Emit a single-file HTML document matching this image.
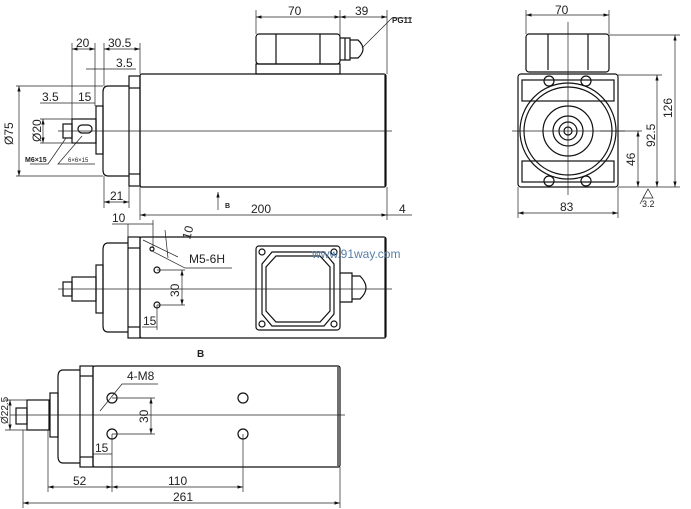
<!DOCTYPE html>
<html><head><meta charset="utf-8"><style>
html,body{margin:0;padding:0;background:#fff}
svg{display:block}
text{font-family:"Liberation Sans",sans-serif;fill:#222}
</style></head><body>
<svg width="691" height="509" viewBox="0 0 691 509" xmlns="http://www.w3.org/2000/svg">
<defs>
<marker id="a" viewBox="0 0 10 6" refX="10" refY="3" markerWidth="8" markerHeight="5" orient="auto-start-reverse"><path d="M0,0L10,3L0,6z" fill="#111"/></marker>
</defs>
<g fill="none" stroke="#111" stroke-width="1.2">
<!-- TOP VIEW -->
<rect x="140" y="74" width="246" height="113" rx="2"/>
<line x1="385" y1="75" x2="385" y2="186"/>
<rect x="129" y="76" width="11" height="110"/>
<line x1="129" y1="88" x2="140" y2="88"/><line x1="129" y1="174" x2="140" y2="174"/>
<path d="M129,86 H108 Q103,86 103,92 V170 Q103,176 108,176 H129"/>
<rect x="96" y="106" width="7" height="48"/>
<rect x="72" y="119" width="24" height="24"/>
<rect x="63" y="124" width="9" height="14"/>
<rect x="78" y="125" width="14" height="8" rx="4"/>
<rect x="256" y="34" width="84" height="30" rx="3"/>
<line x1="276" y1="34" x2="276" y2="64"/><line x1="320" y1="34" x2="320" y2="64"/>
<rect x="256" y="64" width="84" height="10"/>
<path d="M340,38 H350 V60 H340 M350,40 H358 Q368,49 358,58 H350"/>
<line x1="345" y1="38" x2="345" y2="60"/>
<!-- RIGHT VIEW -->
<rect x="518" y="74" width="100" height="113" rx="3"/>
<rect x="526" y="34" width="83" height="38" rx="3"/>
<line x1="548" y1="34" x2="548" y2="70"/><line x1="588" y1="34" x2="588" y2="70"/>
<rect x="522" y="80" width="92" height="21"/><rect x="522" y="161" width="92" height="21"/>
<circle cx="568" cy="131" r="48"/><circle cx="568" cy="131" r="44"/>
<circle cx="568" cy="131" r="25"/><circle cx="568" cy="131" r="15"/>
<circle cx="568" cy="131" r="9"/><circle cx="568" cy="131" r="4"/>
<circle cx="549" cy="81" r="5"/><circle cx="586" cy="81" r="5"/>
<circle cx="549" cy="181" r="5"/><circle cx="586" cy="181" r="5"/>
<!-- MIDDLE VIEW -->
<rect x="140" y="237" width="246" height="101" rx="2"/>
<line x1="385" y1="238" x2="385" y2="337"/>
<rect x="128" y="237" width="12" height="101"/>
<line x1="128" y1="248" x2="140" y2="248"/><line x1="128" y1="327" x2="140" y2="327"/>
<path d="M128,243 H108 Q103,243 103,250 V326 Q103,332 108,332 H128"/>
<rect x="96" y="265" width="7" height="48"/>
<rect x="72" y="277" width="24" height="24"/>
<rect x="63" y="282" width="9" height="14"/>
<rect x="256" y="246" width="84" height="84" rx="3"/>
<path d="M272,252 H324 L334,264 V314 L324,326 H272 L262,314 V264 Z"/>
<path d="M276,256 H320 L330,267 V311 L320,322 H276 L266,311 V267 Z"/>
<circle cx="262" cy="252" r="3"/><circle cx="334" cy="252" r="3"/>
<circle cx="262" cy="324" r="3"/><circle cx="334" cy="324" r="3"/>
<path d="M340,273 H352 V302 H340 M352,276 H360 Q372,288 360,299 H352"/>
<circle cx="157" cy="270" r="3"/><circle cx="157" cy="305" r="3"/>
<circle cx="152" cy="249" r="2"/>
<!-- BOTTOM VIEW -->
<rect x="93" y="366" width="247" height="101" rx="2"/>
<line x1="338" y1="367" x2="338" y2="466"/>
<rect x="80" y="366" width="13" height="101"/>
<line x1="80" y1="376" x2="93" y2="376"/><line x1="80" y1="457" x2="93" y2="457"/>
<path d="M80,370 H63 Q58,370 58,377 V456 Q58,463 63,463 H80"/>
<rect x="50" y="393" width="8" height="44"/>
<rect x="27" y="400" width="22" height="30"/>
<rect x="16" y="408" width="11" height="16"/>
<circle cx="112" cy="398" r="5"/><circle cx="112" cy="434" r="5"/>
<circle cx="243" cy="398" r="5"/><circle cx="243" cy="434" r="5"/>
</g>
<!-- centerlines & dims -->
<g fill="none" stroke="#222" stroke-width="0.7">
<line x1="58" y1="131" x2="392" y2="131"/>
<line x1="512" y1="131" x2="625" y2="131"/><line x1="568" y1="22" x2="568" y2="195"/>
<line x1="58" y1="289" x2="392" y2="289"/>
<line x1="10" y1="415" x2="345" y2="415"/>
<line x1="256" y1="10" x2="256" y2="34"/><line x1="340" y1="10" x2="340" y2="38"/><line x1="387" y1="10" x2="387" y2="74"/>
<line x1="256" y1="17" x2="340" y2="17" marker-start="url(#a)" marker-end="url(#a)"/>
<line x1="340" y1="17" x2="387" y2="17" marker-start="url(#a)" marker-end="url(#a)"/>
<path d="M362,48 L392,18 H412"/>
<line x1="72" y1="43" x2="72" y2="119"/><line x1="95" y1="43" x2="95" y2="106"/><line x1="104" y1="43" x2="104" y2="86"/><line x1="140" y1="43" x2="140" y2="74"/>
<line x1="72" y1="49" x2="95" y2="49" marker-start="url(#a)" marker-end="url(#a)"/>
<line x1="104" y1="49" x2="140" y2="49" marker-start="url(#a)" marker-end="url(#a)"/>
<line x1="86" y1="69" x2="136" y2="69"/>
<line x1="16" y1="86" x2="103" y2="86"/><line x1="16" y1="176" x2="103" y2="176"/>
<line x1="19" y1="86" x2="19" y2="176" marker-start="url(#a)" marker-end="url(#a)"/>
<line x1="40" y1="103" x2="95" y2="103"/>
<line x1="40" y1="119" x2="72" y2="119"/><line x1="40" y1="143" x2="72" y2="143"/>
<line x1="43" y1="119" x2="43" y2="143" marker-start="url(#a)" marker-end="url(#a)"/>
<path d="M66,138 L48,164 H30"/><path d="M82,136 L58,164 H95"/>
<line x1="104" y1="176" x2="104" y2="208"/><line x1="129" y1="186" x2="129" y2="208"/>
<line x1="104" y1="202" x2="129" y2="202" marker-start="url(#a)" marker-end="url(#a)"/>
<line x1="140" y1="187" x2="140" y2="220"/><line x1="387" y1="187" x2="387" y2="220"/>
<line x1="140" y1="215" x2="387" y2="215" marker-start="url(#a)" marker-end="url(#a)"/>
<line x1="387" y1="215" x2="412" y2="215"/>
<line x1="218" y1="210" x2="218" y2="192" marker-end="url(#a)"/>
<line x1="526" y1="10" x2="526" y2="34"/><line x1="609" y1="10" x2="609" y2="34"/>
<line x1="526" y1="15" x2="609" y2="15" marker-start="url(#a)" marker-end="url(#a)"/>
<line x1="609" y1="35" x2="680" y2="35"/><line x1="618" y1="75" x2="662" y2="75"/><line x1="618" y1="187" x2="680" y2="187"/><line x1="600" y1="131" x2="642" y2="131"/>
<line x1="675" y1="35" x2="675" y2="187" marker-start="url(#a)" marker-end="url(#a)"/>
<line x1="657" y1="75" x2="657" y2="187" marker-start="url(#a)" marker-end="url(#a)"/>
<line x1="638" y1="131" x2="638" y2="187" marker-start="url(#a)" marker-end="url(#a)"/>
<line x1="518" y1="187" x2="518" y2="218"/><line x1="618" y1="187" x2="618" y2="218"/>
<line x1="518" y1="213" x2="618" y2="213" marker-start="url(#a)" marker-end="url(#a)"/>
<path d="M643,198 L648,189 L653,198 Z M640,204 L648,189"/>
<!-- middle dims -->
<line x1="128" y1="224" x2="128" y2="240"/><line x1="153" y1="220" x2="153" y2="248"/>
<line x1="112" y1="224" x2="153" y2="224"/>
<line x1="143" y1="240" x2="178" y2="257"/><line x1="165" y1="230" x2="168" y2="258"/><path d="M150,250 L185,268 H232"/>
<line x1="157" y1="270" x2="185" y2="270"/><line x1="157" y1="305" x2="185" y2="305"/>
<line x1="182" y1="270" x2="182" y2="305" marker-start="url(#a)" marker-end="url(#a)"/>
<line x1="157" y1="305" x2="157" y2="330"/><line x1="142" y1="327" x2="157" y2="327"/>
<!-- bottom dims -->
<path d="M100,411 L122,384 H158"/>
<line x1="112" y1="398" x2="155" y2="398"/><line x1="112" y1="434" x2="155" y2="434"/>
<line x1="151" y1="398" x2="151" y2="434" marker-start="url(#a)" marker-end="url(#a)"/>
<line x1="93" y1="454" x2="112" y2="454"/>
<line x1="112" y1="434" x2="112" y2="492"/><line x1="243" y1="434" x2="243" y2="492"/><line x1="48" y1="430" x2="48" y2="492"/>
<line x1="48" y1="487" x2="112" y2="487" marker-start="url(#a)" marker-end="url(#a)"/>
<line x1="112" y1="487" x2="243" y2="487" marker-start="url(#a)" marker-end="url(#a)"/>
<line x1="23" y1="430" x2="23" y2="508"/><line x1="340" y1="467" x2="340" y2="508"/>
<line x1="23" y1="503" x2="340" y2="503" marker-start="url(#a)" marker-end="url(#a)"/>
<line x1="5" y1="400" x2="27" y2="400"/><line x1="5" y1="430" x2="27" y2="430"/>
<line x1="10" y1="400" x2="10" y2="430" marker-start="url(#a)" marker-end="url(#a)"/>
</g>
<g font-size="12">
<text x="288" y="15">70</text><text x="355" y="15">39</text>
<text x="392" y="23" font-size="8" font-weight="bold">PG11</text>
<text x="76" y="47">20</text><text x="108" y="47">30.5</text><text x="116" y="67">3.5</text>
<text x="42" y="101">3.5</text><text x="78" y="101">15</text>
<text x="13" y="145" transform="rotate(-90 13 145)">Ø75</text>
<text x="41" y="142" transform="rotate(-90 41 142)">Ø20</text>
<text x="25" y="162" font-size="7" font-weight="bold">M6×15</text>
<text x="68" y="162" font-size="6">6×6×15</text>
<text x="110" y="200">21</text>
<text x="225" y="208" font-size="7" font-weight="bold">B</text>
<text x="251" y="213">200</text><text x="399" y="213">4</text>
<text x="112" y="222">10</text>
<text x="190" y="240" transform="rotate(-75 190 240)">10</text>
<text x="189" y="263">M5-6H</text>
<text x="179" y="297" transform="rotate(-90 179 297)">30</text>
<text x="143" y="325">15</text>
<text x="312" y="258" fill="#5a7fa8" style="fill:#5a7fa8" font-family="Liberation Mono">www.91way.com</text>
<text x="197" y="357" font-size="10" font-weight="bold">B</text>
<text x="127" y="380">4-M8</text>
<text x="148" y="423" transform="rotate(-90 148 423)">30</text>
<text x="95" y="452">15</text>
<text x="73" y="485">52</text><text x="168" y="485">110</text><text x="173" y="501">261</text>
<text x="8" y="424" transform="rotate(-90 8 424)" font-size="10">Ø22.5</text>
<text x="555" y="14">70</text>
<text x="672" y="118" transform="rotate(-90 672 118)">126</text>
<text x="655" y="147" transform="rotate(-90 655 147)">92.5</text>
<text x="635" y="166" transform="rotate(-90 635 166)">46</text>
<text x="560" y="211">83</text>
<text x="642" y="207" font-size="9">3.2</text>
</g>
</svg>
</body></html>
